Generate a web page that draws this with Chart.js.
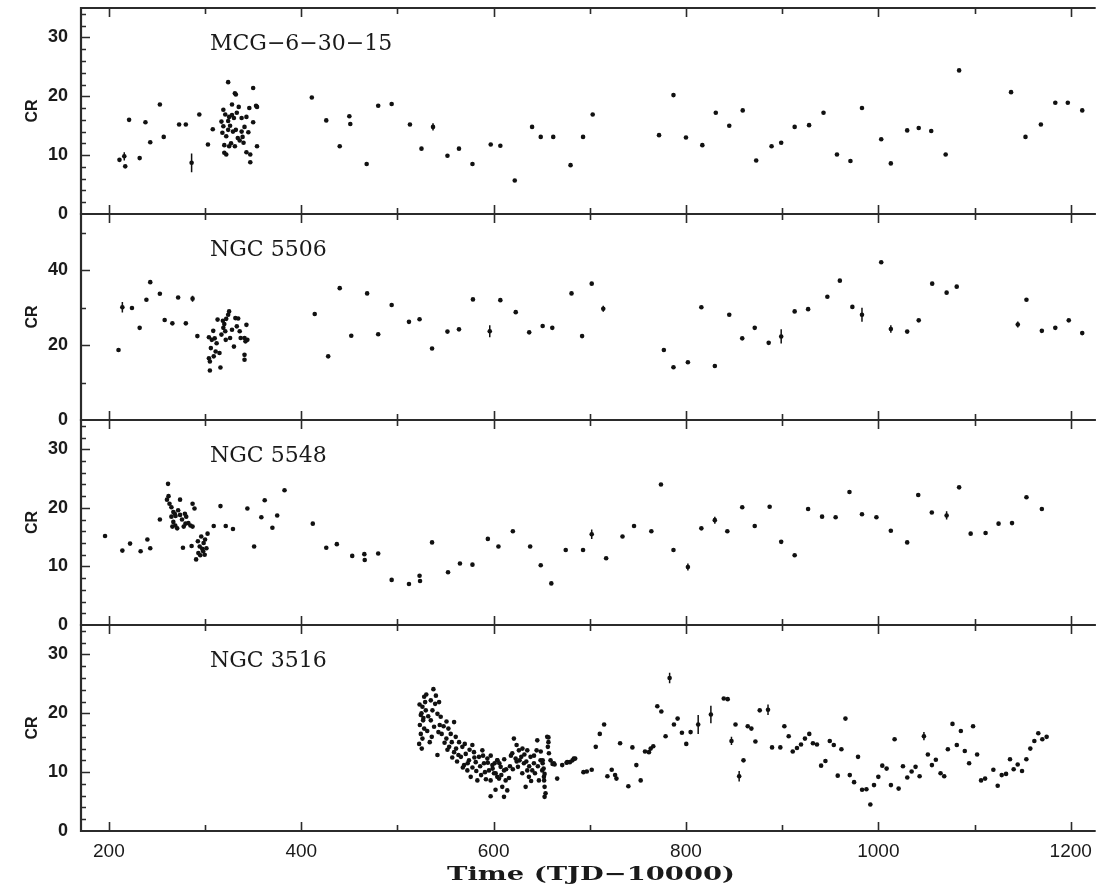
<!DOCTYPE html>
<html>
<head>
<meta charset="utf-8">
<script src="https://cdn.jsdelivr.net/npm/chart.js@4.4.1/dist/chart.umd.min.js"></script>
<style>
  html, body { margin: 0; padding: 0; background: #fff; }
  #wrap { position: relative; width: 1098px; height: 888px; overflow: hidden; }
  #wrap canvas { position: absolute; left: 0; }
</style>
</head>
<body>
<div id="wrap"></div>
<script>
// light curves, [time (TJD-10000), count rate, optional error]
const mcg63015 = [
  [211, 9.2], [216, 9.8, 0.7], [217, 8.1], [221, 16.0], [232, 9.5], [238, 15.6], [243, 12.2], [253, 18.6],
  [257, 13.1], [273, 15.2], [280, 15.2], [286, 8.7, 1.6], [294, 16.9], [303, 11.8], [308, 14.4],
  [324, 22.4], [331, 20.5], [332, 20.3], [350, 21.4], [353, 18.4], [354, 18.2], [346, 18.0], [350, 15.6],
  [354, 11.5], [347, 10.1], [347, 8.8], [343, 10.5], [340, 12.1], [345, 13.9], [343, 16.5], [338, 16.3],
  [335, 18.2], [328, 18.6], [325, 16.5], [328, 16.8], [330, 16.3], [324, 15.8], [319, 17.7], [321, 16.9],
  [317, 15.7], [319, 14.9], [324, 14.3], [318, 13.8], [322, 13.2], [320, 11.7], [325, 11.5], [320, 10.4],
  [322, 10.1], [332, 14.3], [334, 12.9], [331, 11.5], [338, 14.0], [339, 13.1], [326, 15.0], [329, 14.0],
  [336, 12.5], [341, 14.8], [327, 12.0], [333, 17.2],
  [411, 19.8], [426, 15.9], [440, 11.5], [450, 16.6], [451, 15.3], [468, 8.5], [480, 18.4], [494, 18.7],
  [513, 15.2], [525, 11.1], [537, 14.8, 0.6], [552, 9.9], [564, 11.1], [578, 8.5], [597, 11.8], [607, 11.6],
  [622, 5.7], [640, 14.8], [649, 13.1], [662, 13.1], [680, 8.3], [693, 13.1], [703, 16.9], [772, 13.4],
  [787, 20.2], [800, 13.0], [817, 11.7], [831, 17.2], [845, 15.0], [859, 17.6], [873, 9.1], [889, 11.5],
  [899, 12.1], [913, 14.8], [928, 15.1], [943, 17.2], [957, 10.1], [971, 9.0], [983, 18.0], [1003, 12.7],
  [1013, 8.6], [1030, 14.2], [1042, 14.6], [1055, 14.1], [1070, 10.1], [1084, 24.4], [1138, 20.7], [1153, 13.1],
  [1169, 15.2], [1184, 18.9], [1197, 18.9], [1212, 17.6]
];

const ngc5506 = [
  [210, 18.7], [214, 30.1, 1.4], [224, 29.9], [232, 24.6], [239, 32.1], [243, 36.8], [253, 33.7], [258, 26.7],
  [266, 25.8], [272, 32.7], [280, 25.8], [287, 32.4, 0.8], [292, 22.4],
  [305, 13.2], [304, 16.5], [305, 15.6], [306, 19.2], [304, 22.1], [307, 21.4], [308.5, 23.8], [311, 18.3],
  [309, 17.0], [315, 17.9], [316, 14.0], [313, 26.8], [317, 22.8], [318.5, 26.5], [320, 25.6], [319, 24.6],
  [321, 23.7], [321.5, 21.4], [324, 28.1], [325, 29.0], [326, 21.9], [330, 19.6], [328, 24.1], [331.5, 27.2],
  [334.4, 27.1], [336, 23.7], [337, 21.9], [341, 21.9], [343, 25.4], [344, 21.4], [342, 21.0], [341, 17.4],
  [341, 16.1], [312, 20.5], [310, 21.8], [322, 27.0], [333, 25.0],
  [414, 28.3], [428, 17.0], [440, 35.2], [452, 22.5], [468.5, 33.8], [480, 22.9], [494, 30.7], [512, 26.2],
  [523, 26.9], [536, 19.1], [552, 23.6], [564, 24.2], [578.5, 32.2], [596, 23.7, 1.6], [607, 32.0], [623, 28.8],
  [637, 23.4], [651, 25.1], [661, 24.6], [681, 33.8], [692, 22.4], [702, 36.4], [714, 29.7, 0.8], [777, 18.7],
  [787, 14.1], [802, 15.4], [816, 30.1], [830, 14.4], [845, 28.1], [858.5, 21.8], [871.5, 24.6], [886, 20.6],
  [899, 22.3, 1.9], [913, 29.0], [927, 29.6], [947, 32.9], [960, 37.2], [973, 30.2], [983, 28.1, 1.9], [1003, 42.1],
  [1013, 24.3, 1.0], [1030, 23.6], [1042, 26.6], [1056, 36.4], [1071, 34.0], [1081.5, 35.6], [1145, 25.5, 0.8], [1154, 32.1],
  [1170, 23.8], [1184, 24.6], [1198, 26.6], [1212, 23.2]
];

const ngc5548 = [
  [196, 15.2], [214, 12.7], [222, 13.9], [233, 12.6], [240, 14.6], [243, 13.1], [253, 18.0],
  [261.5, 24.1], [260.4, 21.4], [262, 22.0], [263, 20.7], [265, 20.1], [267, 19.3], [268.5, 19.0], [269.3, 18.6],
  [265, 18.5], [267, 17.6], [266, 16.8], [269, 17.0], [271, 16.5], [274, 21.4], [272, 19.6], [274, 18.8],
  [276, 18.0], [277, 13.2], [279, 19.0], [280.4, 18.5], [282.6, 17.4], [284.8, 17.0], [287, 16.8], [279.6, 17.3],
  [277.8, 16.8], [287, 20.7], [289, 19.9], [286, 13.5],
  [290.7, 11.2], [292.5, 14.3], [294.4, 13.4], [296, 15.1], [298, 12.6], [298.5, 14.0], [299.6, 12.0], [301.4, 13.1],
  [302.6, 15.6], [295, 11.9], [297, 13.0], [300, 14.6], [293, 12.3],
  [309, 16.9], [316, 20.3], [321.5, 16.9], [329, 16.4], [344, 19.9], [351, 13.4], [358.5, 18.4], [362, 21.3],
  [370, 16.6], [375, 18.7], [382.6, 23.0], [412, 17.3], [426, 13.2], [437, 13.8], [453, 11.8], [465.6, 12.1],
  [466, 11.1], [480, 12.2], [494, 7.7], [512, 7.0], [523, 8.4], [523.5, 7.5], [536, 14.1], [552.6, 9.0],
  [565, 10.5], [578, 10.3], [594, 14.7], [605, 13.4], [620, 16.0], [638, 13.4], [649, 10.2], [660, 7.1],
  [675, 12.8], [693, 12.8], [702, 15.5, 0.8], [717, 11.4], [734, 15.1], [746, 16.9], [764, 16.0], [774, 24.0],
  [787, 12.8], [802, 9.9, 0.6], [816, 16.5], [830, 17.9, 0.6], [843, 16.0], [858.5, 20.1], [871.5, 16.9], [887, 20.2],
  [899, 14.2], [913, 11.9], [927, 19.8], [941.5, 18.5], [955.6, 18.4], [970, 22.7], [983, 18.9], [998, 18.4],
  [1013, 16.1], [1030, 14.1], [1041.5, 22.2], [1055.6, 19.2], [1071, 18.7, 0.7], [1084, 23.5], [1096, 15.6], [1111.5, 15.7],
  [1125, 17.3], [1139, 17.4], [1154, 21.8], [1170, 19.8]
];

const ngc3516 = [
  [527.8, 22.8], [528.8, 21.9], [526, 21.1], [529.5, 20.5], [524.3, 19.7], [526.7, 18.8], [523.3, 18.0], [527.8, 17.4],
  [524.3, 16.5], [526, 15.7], [522.6, 14.8], [525.3, 14.0], [537.4, 24.1], [534.7, 22.2], [539.2, 21.6], [543.3, 21.9],
  [536.4, 20.5], [541.6, 19.9], [545, 19.4], [534.7, 18.8], [538.1, 17.7], [542.6, 16.8], [535.7, 16.0], [533.6, 15.1],
  [541.6, 12.9], [558.9, 18.5], [553, 17.4], [555.4, 16.5], [550.9, 15.7], [556.5, 15.1], [553.8, 14.3], [560.6, 16.0],
  [564.1, 15.1], [558.9, 13.4], [563.4, 12.9], [567.5, 14.3], [571, 13.1], [574.4, 12.0], [569.3, 11.2], [577.9, 14.6],
  [579.6, 13.4], [581.4, 11.7], [572.7, 10.3], [576.2, 9.2], [583.1, 8.6], [584.8, 12.6], [588.3, 13.7], [590, 11.5],
  [593.5, 12.3], [595.2, 10.3], [598.7, 11.2], [600.4, 9.8], [603.8, 12.0], [603.8, 9.2], [596.9, 8.6], [596.9, 5.9],
  [525, 20.0], [527, 19.2], [523, 21.5], [530, 23.2], [531, 17.0], [532, 19.5], [540, 23.0], [544, 18.0],
  [546, 16.5], [548, 17.8], [549, 15.0], [551, 18.6], [552, 13.8], [557, 12.5], [561, 14.0], [562, 11.8],
  [566, 12.6], [568, 10.8], [570, 14.8], [573, 11.5], [575, 13.8], [578, 10.8], [580, 12.5], [582, 10.2],
  [586, 11.0], [587, 9.5], [589, 12.8], [591, 10.0], [592, 8.8], [594, 11.6], [597, 12.8], [599, 10.6],
  [601, 11.5], [602, 7.0],
  [603.9, 12.0], [607.3, 10.9], [602.1, 9.8], [610.8, 10.3], [605.6, 8.9], [612.5, 8.6], [609, 7.5], [614.2, 6.9],
  [610.8, 5.8], [621.1, 15.7], [623.9, 14.6], [626.3, 13.7], [619.4, 13.2], [622.9, 12.3], [628.8, 12.6], [631.5, 11.5],
  [625.3, 10.9], [635, 10.3], [629.8, 9.8], [635, 13.7], [638.4, 12.6], [645.4, 15.4], [641.9, 11.5], [636.7, 9.2],
  [633.3, 7.5], [640.2, 10.3], [644.7, 13.7], [648.8, 12.0], [650.5, 10.3], [652.3, 9.2], [647.1, 8.6], [654, 6.4],
  [653, 5.8], [655.7, 16.0], [656.4, 14.3], [657.5, 13.2], [659.2, 12.0], [662.6, 11.5], [666.1, 8.9], [671.3, 11.2],
  [676.5, 11.7], [683.4, 12.3],
  [606, 11.5], [608, 9.5], [611, 12.2], [613, 10.5], [616, 9.0], [617, 11.0], [618, 12.8], [620, 10.5],
  [624, 11.8], [627, 12.0], [630, 14.0], [632, 13.0], [634, 11.8], [637, 11.0], [639, 8.5], [642, 12.8],
  [643, 9.8], [646, 11.0], [649, 13.5], [651, 11.5], [653, 7.5],
  [657, 15.9], [657, 15.1], [651, 12.0], [652, 10.6], [653, 9.7], [652.5, 8.6], [661.3, 11.4], [663.4, 11.3],
  [675.8, 11.6], [679.3, 11.7], [682, 12.0], [684.8, 12.3],
  [693.4, 10.0], [696.9, 10.1], [702, 10.4], [706.2, 14.3], [710.4, 16.5], [714.9, 18.1], [718.3, 9.3], [722.8, 10.4],
  [726.3, 9.5], [727.7, 8.9], [731.5, 14.9], [740.1, 7.6], [744.3, 14.2], [748.4, 11.2], [752.9, 8.6], [757.4, 13.5],
  [761.5, 13.4], [763.3, 14.0], [766, 14.4], [770.2, 21.2], [774.4, 20.3], [778.8, 16.1], [783, 26.0, 0.9], [787.5, 18.1],
  [791.3, 19.1], [795.8, 16.7], [800.3, 14.8], [804.8, 16.8], [812.7, 18.1, 1.6], [825.9, 19.8, 1.5], [839.3, 22.5], [843.4, 22.4],
  [847.3, 15.3, 0.7], [851.5, 18.1], [855.3, 9.3, 0.9], [859.8, 12.0], [864.2, 17.8], [868, 17.4], [872.2, 15.2], [876.7, 20.5],
  [885.3, 20.6, 0.9], [889.5, 14.2], [898.1, 14.2], [902.3, 17.8], [906.8, 16.1], [911, 13.5], [915.4, 14.1], [919.6, 14.7],
  [923.7, 15.7], [928.2, 16.5], [932, 14.9], [936.2, 14.7],
  [940.5, 11.1], [945, 11.9], [949.5, 15.3], [953.7, 14.6], [957.8, 9.4], [961.6, 13.9], [965.8, 19.1], [970.3, 9.5],
  [974.8, 8.3], [978.9, 12.6], [983.1, 7.0], [987.6, 7.1], [991.7, 4.5], [995.5, 7.8], [1000, 9.2], [1004.1, 11.1],
  [1008.6, 10.6], [1013.1, 7.8], [1016.9, 15.6], [1021.1, 7.2], [1025.6, 11.0], [1030.1, 9.1], [1034.6, 10.1], [1038.7, 10.9],
  [1042.9, 9.3], [1047.4, 16.1, 0.7], [1051.5, 13.0], [1055.7, 11.2], [1059.8, 12.1], [1064.7, 9.8], [1068.5, 9.3], [1072.3, 13.9],
  [1077.1, 18.2], [1081.6, 14.6], [1085.8, 17.0], [1089.9, 13.6], [1094.4, 11.5], [1098.5, 17.8], [1102.7, 13.0], [1106.8, 8.6],
  [1111, 8.9], [1119.6, 10.4], [1124.1, 7.7], [1128.3, 9.5], [1132.8, 9.7], [1136.9, 12.2], [1140.7, 10.5], [1144.9, 11.3],
  [1149.4, 10.2], [1153.9, 12.2], [1158, 14.0], [1162.2, 15.3], [1166.3, 16.6], [1170.5, 15.6], [1175, 16.0]
];

const xTicks = [200, 300, 400, 500, 600, 700, 800, 900, 1000, 1100, 1200];
const xLabels = [200, 400, 600, 800, 1000, 1200];
const yLabels35 = [0, 10, 20, 30];
const yLabels55 = [0, 20, 40];

const panels = [
  { name: 'MCG\u22126\u221230\u221215', data: mcg63015, yMax: 35, yLabels: yLabels35, minorStep: 2, top: 8, bottom: 214 },
  { name: 'NGC 5506', data: ngc5506, yMax: 55, yLabels: yLabels55, minorStep: 10, top: 214, bottom: 420 },
  { name: 'NGC 5548', data: ngc5548, yMax: 35, yLabels: yLabels35, minorStep: 2, top: 420, bottom: 625 },
  { name: 'NGC 3516', data: ngc3516, yMax: 35, yLabels: yLabels35, minorStep: 2, top: 625, bottom: 831 }
];

const ink = '#2b2b2b';

// vertical error bars for the points that carry one
const errorBars = {
  id: 'errorBars',
  afterDatasetsDraw(chart) {
    const { ctx, scales: { x, y } } = chart;
    ctx.save();
    ctx.strokeStyle = '#111';
    ctx.lineWidth = 1.5;
    ctx.beginPath();
    chart.data.datasets[0].data.forEach(d => {
      if (!d.err) return;
      const px = x.getPixelForValue(d.x);
      ctx.moveTo(px, y.getPixelForValue(d.y - d.err));
      ctx.lineTo(px, y.getPixelForValue(d.y + d.err));
    });
    ctx.stroke();
    ctx.restore();
  }
};

const framePlugin = {
  id: 'frame',
  afterDraw(chart, args, opts) {
    const { ctx, chartArea: a, scales: { x, y } } = chart;
    ctx.save();
    ctx.strokeStyle = ink;
    ctx.lineWidth = 2.2;
    ctx.beginPath();
    ctx.moveTo(a.left, a.top); ctx.lineTo(a.right, a.top);
    ctx.moveTo(a.left, a.bottom); ctx.lineTo(a.right, a.bottom);
    ctx.moveTo(a.left, a.top - 1); ctx.lineTo(a.left, a.bottom + 1);
    ctx.stroke();

    ctx.lineWidth = 1.6;
    ctx.beginPath();
    xTicks.forEach(v => {
      const px = Math.round(x.getPixelForValue(v)) + 0.5;
      const len = xLabels.includes(v) ? 9 : 6;
      ctx.moveTo(px, a.top); ctx.lineTo(px, a.top + len);
      ctx.moveTo(px, a.bottom); ctx.lineTo(px, a.bottom - len);
    });
    for (let v = opts.minorStep; v < y.max; v += opts.minorStep) {
      const py = Math.round(y.getPixelForValue(v)) + 0.5;
      const len = opts.yLabels.includes(v) ? 9 : 5;
      ctx.moveTo(a.left, py); ctx.lineTo(a.left + len, py);
    }
    ctx.stroke();

    ctx.fillStyle = '#1a1a1a';
    ctx.font = '22px "DejaVu Serif"';
    ctx.textAlign = 'left';
    ctx.textBaseline = 'alphabetic';
    ctx.fillText(opts.name, 210, a.top + 42);

    if (opts.xTitle) {
      const text = 'Time (TJD\u221210000)';
      ctx.font = 'bold 19px "DejaVu Serif"';
      const w = ctx.measureText(text).width;
      ctx.translate(447, chart.height - 13);
      ctx.scale(288 / w, 1);
      ctx.textAlign = 'left';
      ctx.textBaseline = 'middle';
      ctx.fillText(text, 0, 0);
    }
    ctx.restore();
  }
};

const wrap = document.getElementById('wrap');

panels.forEach((p, i) => {
  const last = i === panels.length - 1;
  const canvasTop = p.top - 10;
  const canvasH = last ? 888 - canvasTop : (p.bottom - p.top) + 20;
  const canvas = document.createElement('canvas');
  canvas.width = 1098;
  canvas.height = canvasH;
  canvas.style.top = canvasTop + 'px';
  canvas.style.width = '1098px';
  canvas.style.height = canvasH + 'px';
  wrap.appendChild(canvas);

  new Chart(canvas.getContext('2d'), {
    type: 'scatter',
    data: {
      datasets: [{
        data: p.data.map(d => ({ x: d[0], y: d[1], err: d[2] || 0 })),
        backgroundColor: '#111',
        borderWidth: 0,
        pointRadius: 2.3,
        pointHoverRadius: 2.3
      }]
    },
    options: {
      responsive: false,
      maintainAspectRatio: false,
      animation: false,
      devicePixelRatio: 1,
      layout: { padding: { top: 10, bottom: last ? 0 : 10, left: 0, right: 0 } },
      plugins: {
        legend: { display: false },
        tooltip: { enabled: false },
        frame: { name: p.name, minorStep: p.minorStep, yLabels: p.yLabels, xTitle: last }
      },
      scales: {
        x: {
          type: 'linear',
          min: 171,
          max: 1226,
          display: last,
          grid: { display: false, drawTicks: false },
          border: { display: false },
          afterBuildTicks: s => { s.ticks = xLabels.map(v => ({ value: v })); },
          afterFit: s => {
            if (last) s.height = 57;
            s.paddingLeft = 0; s.paddingRight = 0;
          },
          ticks: {
            autoSkip: false,
            maxRotation: 0,
            padding: 9,
            color: '#1a1a1a',
            callback: v => String(v),
            font: { family: '"Liberation Sans"', size: 19 }
          }
        },
        y: {
          type: 'linear',
          min: 0,
          max: p.yMax,
          grid: { display: false, drawTicks: false },
          border: { display: false },
          afterBuildTicks: s => { s.ticks = p.yLabels.map(v => ({ value: v })); },
          afterFit: s => {
            s.width = 81;
            s.paddingTop = 0; s.paddingBottom = 0;
          },
          ticks: {
            padding: 13,
            color: '#1a1a1a',
            callback: v => String(v),
            font: { family: '"Liberation Sans"', size: 18, weight: 'bold' }
          },
          title: {
            display: true,
            text: 'CR',
            color: '#1a1a1a',
            padding: { top: 23, bottom: 0 },
            font: { family: '"Liberation Sans"', size: 16, weight: 'bold' }
          }
        }
      }
    },
    plugins: [errorBars, framePlugin]
  });
});
</script>
</body>
</html>
